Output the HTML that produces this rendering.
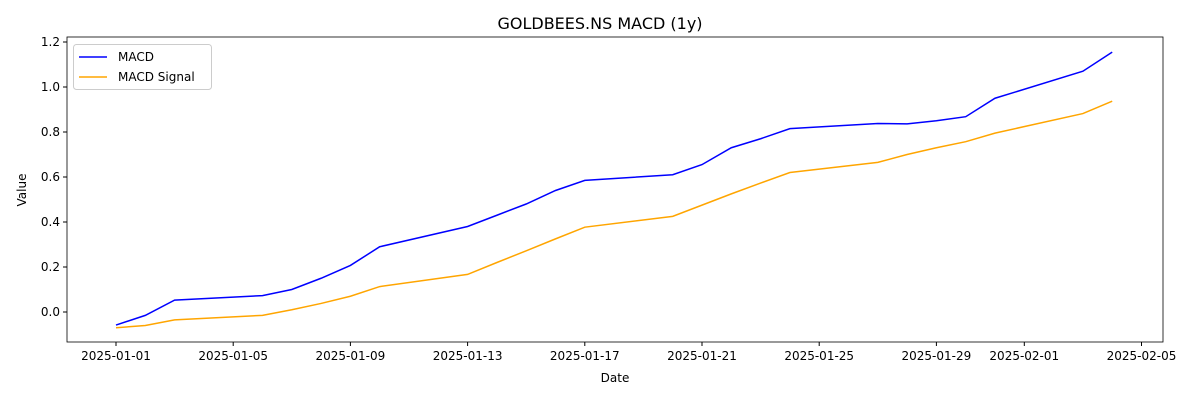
<!DOCTYPE html>
<html><head><meta charset="utf-8"><style>
body{margin:0;background:#fff;font-family:"Liberation Sans","DejaVu Sans",sans-serif;}
svg text{font-family:"DejaVu Sans","Liberation Sans",sans-serif;}
</style></head><body>
<svg id="chart" width="1200" height="400"></svg>
<script>
const dates=["2025-01-01","2025-01-02","2025-01-03","2025-01-06","2025-01-07","2025-01-08","2025-01-09","2025-01-10","2025-01-13","2025-01-14","2025-01-15","2025-01-16","2025-01-17","2025-01-20","2025-01-21","2025-01-22","2025-01-23","2025-01-24","2025-01-27","2025-01-28","2025-01-29","2025-01-30","2025-01-31","2025-02-03","2025-02-04"];
const macd=[-0.058,-0.015,0.053,0.073,0.10,0.15,0.207,0.29,0.38,0.43,0.48,0.54,0.585,0.61,0.655,0.73,0.77,0.815,0.838,0.836,0.85,0.868,0.95,1.07,1.155];
const signal=[-0.07,-0.06,-0.035,-0.015,0.01,0.038,0.07,0.113,0.167,0.22,0.272,0.325,0.377,0.425,0.475,0.525,0.573,0.62,0.665,0.70,0.73,0.757,0.795,0.882,0.937];
const xTicks=["2025-01-01","2025-01-05","2025-01-09","2025-01-13","2025-01-17","2025-01-21","2025-01-25","2025-01-29","2025-02-01","2025-02-05"];
const yTicks=[0.0,0.2,0.4,0.6,0.8,1.0,1.2];
const NS="http://www.w3.org/2000/svg";
const svg=document.getElementById('chart');
const L=67,R=1163,T=37,B=342;
const d0=Date.parse("2025-01-01");
const x=d=>116+(Date.parse(d)-d0)/86400000*29.3;
const y=v=>312-v*225;
function el(tag,attrs,parent){const e=document.createElementNS(NS,tag);for(const k in attrs)e.setAttribute(k,attrs[k]);(parent||svg).appendChild(e);return e;}
const t=el('text',{x:600,y:29,'text-anchor':'middle','font-size':16});t.textContent="GOLDBEES.NS MACD (1y)";

xTicks.forEach(d=>{const g=el('g',{});

el('line',{x1:x(d),x2:x(d),y1:B,y2:B+4,stroke:'#000'},g);
const tx=el('text',{x:x(d),y:B+18,'text-anchor':'middle','font-size':12},g);tx.textContent=d;});
yTicks.forEach(v=>{const g=el('g',{});

el('line',{x1:L-4,x2:L,y1:y(v),y2:y(v),stroke:'#000'},g);
const tx=el('text',{x:L-7,y:y(v)+4,'text-anchor':'end','font-size':12},g);tx.textContent=v.toFixed(1);});
const xl=el('text',{x:615,y:382,'text-anchor':'middle','font-size':12});xl.textContent="Date";

const yl=el('text',{x:26,y:190,'text-anchor':'middle','font-size':12,transform:'rotate(-90 26 190)'});yl.textContent="Value";

function line(vals,color,name){const p=el('polyline',{points:vals.map((v,i)=>x(dates[i])+','+y(v)).join(' '),fill:'none',stroke:color,'stroke-width':1.5});
}
line(signal,'orange','macd-signal-line');
line(macd,'blue','macd-line');
const fr=el('rect',{x:L,y:T,width:R-L,height:B-T,fill:'none',stroke:'#000','stroke-width':0.8});

const lg=el('g',{});
el('rect',{x:73.5,y:44.5,width:138,height:45,rx:3,fill:'#fff',stroke:'#ccc'},lg);
[['MACD','blue',57],['MACD Signal','orange',77]].forEach(([n,c,yy])=>{const g=el('g',{},lg);

el('line',{x1:79,x2:107,y1:yy,y2:yy,stroke:c,'stroke-width':1.5},g);
const tx=el('text',{x:118,y:yy+4,'font-size':12},g);tx.textContent=n;});
</script>
</body></html>
